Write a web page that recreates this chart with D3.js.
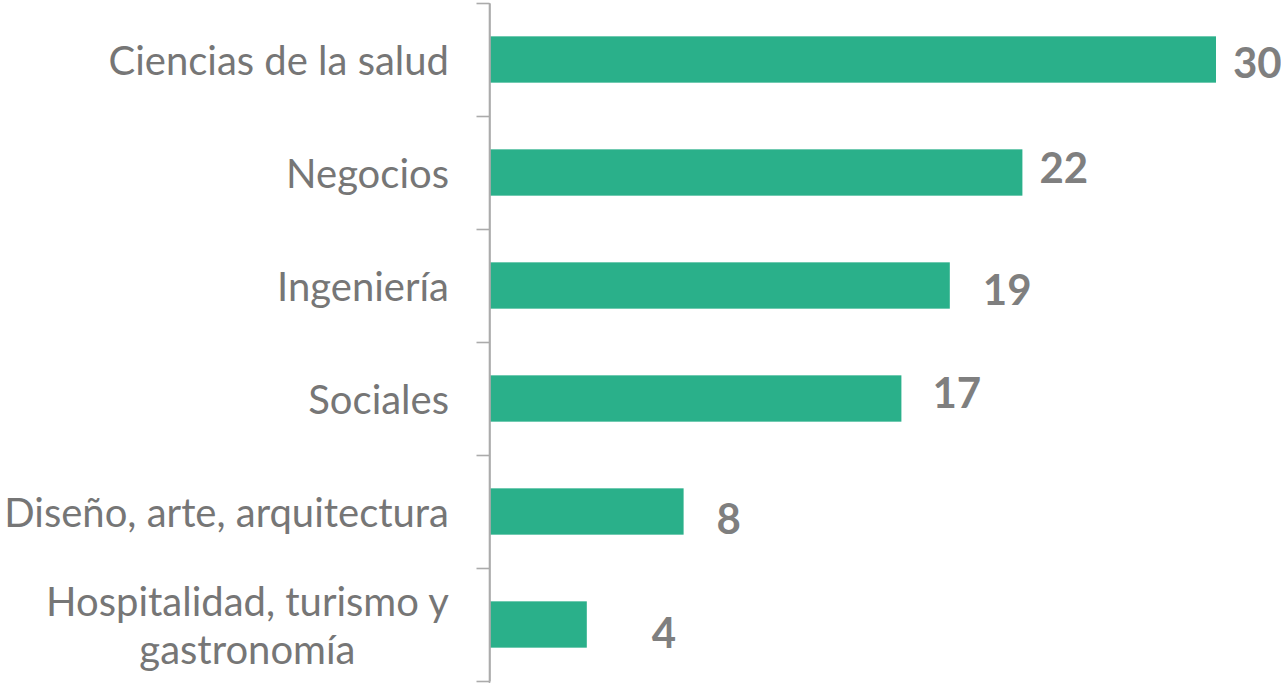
<!DOCTYPE html>
<html>
<head>
<meta charset="utf-8">
<script src="https://cdn.jsdelivr.net/npm/d3@7"></script>
<style>
  html, body { margin: 0; padding: 0; background: #fff; }
  svg { display: block; }
</style>
</head>
<body>
<svg id="chart" width="1281" height="683"></svg>
<script>
// ---- data ----
const categories = [
  ["Ciencias de la salud"],
  ["Negocios"],
  ["Ingeniería"],
  ["Sociales"],
  ["Diseño, arte, arquitectura"],
  ["Hospitalidad, turismo y", "gastronomía"]
];
const values = [30, 22, 19, 17, 8, 4];
const valueLabels = ["30", "22", "19", "17", "8", "4"];

// ---- label nudges (style, as hand-placed in original) ----
const labelDx = [17, 17, 33, 31, 33, 65];
const labelDy = [2, -5.5, 3.5, -6.5, 6, 7];

const W = 1281, H = 683;
const axisX = 489.5;
const svg = d3.select("#chart");

const keys = categories.map((c, i) => i);
const y = d3.scaleBand().domain(keys).range([3, 681]).paddingInner(0.59).paddingOuter(0.295);
const yTicks = d3.scaleBand().domain(keys).range([3, 681]);
const x = d3.scaleLinear().domain([0, 30]).range([490, 1216]);

// bars
svg.append("g").selectAll("rect").data(values).join("rect")
  .attr("x", x(0))
  .attr("y", (d, i) => y(i))
  .attr("width", d => x(d) - x(0))
  .attr("height", y.bandwidth())
  .attr("fill", "#2AB08A");

// axis with category boundary ticks
const axisG = svg.append("g").attr("transform", `translate(${axisX},0)`);
const axis = d3.axisLeft(d3.scaleLinear().domain([3, 681]).range([3, 681]))
  .tickValues(keys.map(k => yTicks(k)).concat([681]))
  .tickSize(13).tickSizeOuter(0).tickFormat("");
axisG.call(axis);
axisG.select(".domain").attr("stroke", "#ABABAB").attr("stroke-width", 1.6);
axisG.selectAll(".tick line").attr("stroke", "#ABABAB").attr("stroke-width", 1.6);
axisG.append("line").attr("x1", 0).attr("x2", 0).attr("y1", 3).attr("y2", 683)
  .attr("stroke", "#ABABAB").attr("stroke-width", 1.6);

// category labels
const catG = svg.append("g")
  .attr("font-family", "Lato, 'Open Sans', sans-serif")
  .attr("font-size", 40)
  .attr("fill", "#767676");
categories.forEach((lines, i) => {
  const cy = y(i) + y.bandwidth() / 2;
  const lh = 48;
  const t = catG.append("text")
    .attr("text-anchor", lines.length > 1 ? "middle" : "end")
    .attr("dominant-baseline", "central");
  if (lines.length === 1) {
    t.attr("x", 449).attr("y", cy).text(lines[0]);
  } else {
    lines.forEach((ln, j) => {
      t.append("tspan").attr("x", 0).attr("y", cy + (j - (lines.length - 1) / 2) * lh).text(ln);
    });
    // right-align the block to the label edge, lines centered among themselves
    const bb = t.node().getBBox();
    t.selectAll("tspan").attr("x", 449 - bb.width / 2);
  }
});

// value labels
svg.append("g")
  .attr("font-family", "Lato, 'Open Sans', sans-serif")
  .attr("font-weight", "bold")
  .attr("font-size", 42)
  .attr("fill", "#7F7F7F")
  .selectAll("text").data(values).join("text")
  .attr("x", (d, i) => x(d) + labelDx[i])
  .attr("y", (d, i) => y(i) + y.bandwidth() / 2 + labelDy[i])
  .attr("dominant-baseline", "central")
  .text((d, i) => valueLabels[i]);
</script>
</body>
</html>
